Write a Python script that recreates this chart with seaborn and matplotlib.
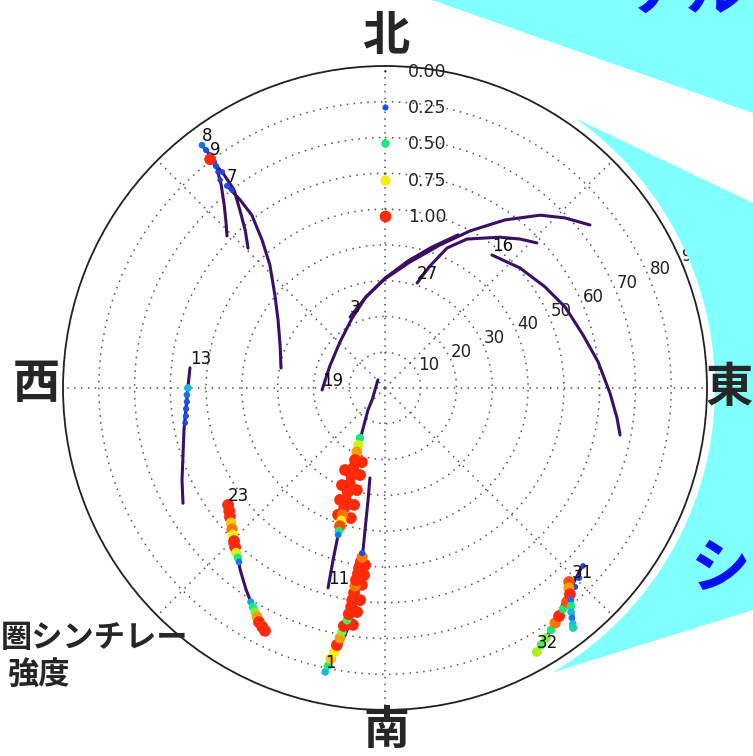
import numpy as np
import pandas as pd
import matplotlib
matplotlib.use("Agg")
import matplotlib.pyplot as plt
from matplotlib.colors import LinearSegmentedColormap
from matplotlib.lines import Line2D
from matplotlib.patches import Polygon
import seaborn as sns

# ---------------------------------------------------------------
# Satellite passes: azimuth (deg, clockwise from north), zenith angle (deg)
# ---------------------------------------------------------------
az_08 = [323.0, 323.1, 322.6, 321.1, 318.7, 316.2, 313.9]
zen_08 = [85.0, 81.4, 77.4, 72.9, 68.1, 64.2, 61.3]

az_09 = [322.6, 323.0, 322.7, 320.8, 318.5, 315.6]
zen_09 = [80.5, 75.6, 69.6, 64.2, 59.0, 54.7]

az_07 = [322.0, 322.4, 322.4, 320.3, 316.9, 310.2, 302.4, 292.3, 280.9]
zen_07 = [71.7, 66.3, 61.0, 53.8, 47.1, 40.3, 35.4, 31.7, 29.6]

az_03 = [-26.2, -11.8, 0.0, 11.2, 21.0, 28.4, 35.5, 41.9, 46.6, 51.5]
zen_03 = [22.1, 26.0, 30.5, 35.9, 42.8, 49.9, 57.7, 64.9, 69.2, 73.2]

az_19 = [-91.8, -68.2, -44.4, -25.2, -11.8, 0.0, 10.3, 18.4, 25.5]
zen_19 = [17.6, 16.6, 18.0, 21.6, 26.0, 30.7, 36.1, 41.5, 47.4]

az_27 = [17.0, 20.2, 23.9, 28.8, 37.3, 42.2, 46.3]
zen_27 = [30.7, 36.3, 42.8, 47.5, 53.0, 56.2, 58.7]

az_16 = [38.8, 48.4, 57.7, 65.8, 75.0, 83.0, 91.3, 97.4, 101.3]
zen_16 = [47.7, 50.5, 52.9, 55.2, 57.3, 60.0, 62.9, 65.4, 67.0]

az_13 = [275.9, 270.0, 263.7, 258.2, 251.6, 245.6, 240.3]
zen_13 = [54.8, 55.1, 56.0, 57.4, 59.5, 62.3, 65.0]

az_11 = [195.9, 196.8, 197.7, 198.9, 200.8, 205.7, 217.7, 227.3, 258.7, 318.8]
zen_11 = [58.1, 50.2, 43.1, 34.5, 26.0, 16.1, 7.8, 4.9, 2.85, 3.0]

az_01 = [191.9, 190.3, 188.9, 187.8, 187.4, 187.6, 188.0, 188.6, 189.5]
zen_01 = [81.1, 75.0, 68.5, 61.8, 54.1, 48.5, 40.1, 31.7, 25.5]

az_23 = [233.3, 228.2, 223.0, 218.5, 214.5, 211.5, 208.7, 206.4]
zen_23 = [54.7, 57.4, 61.1, 65.0, 68.5, 71.1, 73.9, 75.5]

az_31 = [136.1, 138.6, 140.4, 141.9]
zen_31 = [75.3, 79.0, 82.4, 85.2]

az_32 = [150.1, 146.6, 142.7, 139.1, 135.3, 131.8]
zen_32 = [85.1, 82.7, 79.8, 77.3, 75.5, 74.2]

PRN_LABELS = ["8", "9", "7", "3", "19", "27", "16", "13", "11", "1", "23", "31", "32"]
TRACK_AZ = [az_08, az_09, az_07, az_03, az_19, az_27, az_16, az_13, az_11, az_01, az_23, az_31, az_32]
TRACK_ZEN = [zen_08, zen_09, zen_07, zen_03, zen_19, zen_27, zen_16, zen_13, zen_11, zen_01, zen_23, zen_31, zen_32]

# ---------------------------------------------------------------
# S4 scintillation samples along the passes
# ---------------------------------------------------------------
s4_az_08 = [323.0, 323.05, 323.1, 322.9, 322.3, 321.6]
s4_zen_08 = [85.0, 83.2, 81.4, 79.2, 76.3, 74.2]
s4_08 = [0.30, 0.25, 0.25, 0.25, 0.20, 0.20]

s4_az_09 = [322.6, 322.7, 323.0]
s4_zen_09 = [80.5, 78.0, 75.6]
s4_09 = [1.00, 0.25, 0.22]

s4_az_07 = [322.0, 322.3]
s4_zen_07 = [71.7, 69.9]
s4_07 = [0.25, 0.20]

s4_az_13 = [270.0, 268.0, 266.0, 264.0, 262.0, 260.1]
s4_zen_13 = [55.1, 55.4, 55.5, 55.9, 56.2, 56.7]
s4_13 = [0.40, 0.30, 0.25, 0.25, 0.25, 0.22]

s4_az_11 = [197.3, 196.0, 195.4, 194.8, 194.7, 206.0, 203.9, 201.9, 200.3,
            206.6, 205.0, 203.8, 202.6, 201.7, 200.9, 200.2, 199.7, 199.2,
            198.8, 198.5, 198.2, 198.1, 197.9, 197.7]
s4_zen_11 = [21.7, 25.3, 29.6, 33.8, 37.6, 25.5, 29.7, 33.7, 37.8,
             15.6, 17.6, 19.5, 21.8, 24.1, 26.3, 28.6, 30.9, 33.2,
             35.4, 37.4, 39.1, 40.6, 42.0, 43.1]
s4_11 = [1.0, 1.0, 1.0, 1.0, 1.0, 1.0, 1.0, 1.0, 1.0,
         0.50, 0.70, 0.85, 1.0, 1.0, 1.0, 1.0, 1.0, 1.0,
         1.0, 0.90, 0.75, 0.95, 0.50, 0.30]

s4_az_01 = [186.7, 186.4, 186.4, 186.7, 187.1, 187.7,
            191.9, 191.6, 191.3, 190.9, 190.6, 190.2, 190.0, 189.8, 189.3, 189.1,
            188.8, 188.8, 188.6, 188.6, 188.6, 188.3, 188.2, 187.9, 187.7, 187.9]
s4_zen_01 = [55.4, 52.6, 49.8, 59.7, 63.1, 66.8,
             81.1, 79.3, 77.2, 75.2, 73.1, 71.0, 69.2, 67.5, 65.7, 64.0,
             61.9, 60.0, 57.9, 56.0, 54.3, 52.5, 50.8, 49.1, 47.7, 46.6]
s4_01 = [1.0, 1.0, 1.0, 1.0, 1.0, 1.0,
         0.40, 0.50, 0.80, 0.75, 1.0, 0.85, 0.60, 1.0, 0.55, 1.0,
         1.0, 1.0, 1.0, 0.90, 1.0, 1.0, 1.0, 1.0, 0.90, 0.25]

s4_az_23 = [233.3, 231.7, 230.2, 228.8, 227.3, 226.0, 224.6, 223.3, 222.1, 220.9, 220.0,
            212.1, 211.1, 210.1, 209.2, 208.3, 207.2, 206.3]
s4_zen_23 = [54.7, 55.5, 56.4, 57.2, 58.2, 59.1, 60.1, 61.1, 62.1, 62.8, 63.5,
             70.6, 71.5, 72.4, 73.3, 74.3, 75.1, 75.7]
s4_23 = [1.0, 1.0, 1.0, 0.80, 0.90, 0.75, 1.0, 1.0, 0.70, 0.50, 0.30,
         0.35, 0.50, 0.60, 0.85, 1.0, 1.0, 1.0]

s4_az_32 = [150.1, 148.7, 147.2, 145.55, 144.1, 142.65, 141.15, 139.6, 137.9, 136.3, 134.4, 131.95]
s4_zen_32 = [85.1, 84.0, 83.1, 82.0, 81.1, 80.2, 79.3, 78.5, 77.6, 76.9, 75.9, 74.4]
s4_32 = [0.65, 0.55, 0.60, 0.50, 0.90, 1.0, 0.50, 0.95, 0.30, 0.25, 0.25, 0.20]

s4_az_31 = [136.5, 137.4, 138.1, 138.7, 139.5, 140.3, 140.9, 141.5, 141.9]
s4_zen_31 = [74.7, 75.9, 77.4, 78.8, 80.1, 81.4, 82.8, 84.3, 85.2]
s4_31 = [0.95, 0.85, 1.0, 0.30, 0.50, 0.40, 0.30, 0.40, 0.45]

SCINT_AZ = [s4_az_08, s4_az_09, s4_az_07, s4_az_13, s4_az_11, s4_az_01, s4_az_23, s4_az_32, s4_az_31]
SCINT_ZEN = [s4_zen_08, s4_zen_09, s4_zen_07, s4_zen_13, s4_zen_11, s4_zen_01, s4_zen_23, s4_zen_32, s4_zen_31]
SCINT_S4 = [s4_08, s4_09, s4_07, s4_13, s4_11, s4_01, s4_23, s4_32, s4_31]

LEGEND_LEVELS = [0.00, 0.25, 0.50, 0.75, 1.00]
R_TICKS = [10, 20, 30, 40, 50, 60, 70, 80, 90]

# ---------------------------------------------------------------
W, H = 753, 756
CX, CY, RPIX = 385, 388, 322          # sky-circle centre / radius in pixels
R_MASK = 330                          # white margin kept around the sky circle

sns.set_style("white")
plt.rcParams["font.family"] = ["DejaVu Sans", "Noto Sans CJK JP"]
JP = ["Noto Sans CJK JP", "DejaVu Sans"]

cmap = LinearSegmentedColormap.from_list(
    "s4", [(0.0, "#3c0f64"), (0.25, "#1a4ff0"), (0.375, "#12b0f2"),
           (0.5, "#1ee67e"), (0.625, "#9cf020"), (0.75, "#f5f014"),
           (0.875, "#ff8a00"), (1.0, "#ff2a0a")])
SIZE_MIN, SIZE_MAX = 2.0, 72.0


def fx(x):
    return x / W


def fy(y):
    return 1.0 - y / H


def outside_mask(verts, n=300):
    """Trace a polygon outline, pushing any part inside the sky-circle margin onto its rim."""
    pts = []
    for (x0, y0), (x1, y1) in zip(verts, verts[1:] + verts[:1]):
        t = np.linspace(0, 1, n, endpoint=False)
        pts.append(np.column_stack([x0 + (x1 - x0) * t, y0 + (y1 - y0) * t]))
    pts = np.vstack(pts)
    d = pts - np.array([CX, CY])
    r = np.hypot(d[:, 0], d[:, 1])
    k = np.maximum(1.0, R_MASK / r)
    return np.column_stack([CX + d[:, 0] * k, CY + d[:, 1] * k])


fig = plt.figure(figsize=(W / 100, H / 100), dpi=100)
fig.patch.set_facecolor("white")

ax = fig.add_axes([(CX - RPIX) / W, (H - CY - RPIX) / H, 2 * RPIX / W, 2 * RPIX / H],
                  projection="polar", zorder=1)
ax.set_theta_zero_location("N")
ax.set_theta_direction(-1)

# satellite passes
for lab, az, zen in zip(PRN_LABELS, TRACK_AZ, TRACK_ZEN):
    th = np.deg2rad(az)
    ax.plot(th, zen, color=cmap(0.0), lw=2.2, solid_capstyle="round", zorder=2)
    ax.text(th[0], zen[0], lab, ha="left", va="bottom", fontsize=12,
            color="#111111", zorder=6)

# S4 samples
df = pd.concat([pd.DataFrame({"theta": np.deg2rad(a), "zen": z, "S4": s})
                for a, z, s in zip(SCINT_AZ, SCINT_ZEN, SCINT_S4)], ignore_index=True)
sns.scatterplot(data=df, x="theta", y="zen", hue="S4", size="S4", palette=cmap,
                hue_norm=(0, 1), sizes=(SIZE_MIN, SIZE_MAX), size_norm=(0, 1),
                linewidth=0, legend=False, ax=ax, zorder=4)
ax.set_xlabel("")
ax.set_ylabel("")

ax.set_ylim(0, 90)
ax.set_yticks(R_TICKS)
ax.set_yticklabels([str(t) for t in R_TICKS], fontsize=12, color="#222222")
ax.set_rlabel_position(67.5)
ax.set_xticks(np.deg2rad(np.arange(0, 360, 45)))
ax.set_xticklabels([])
ax.grid(True, color="#555555", linestyle=(0, (1, 3.5)), linewidth=1.1)
ax.spines["polar"].set_linewidth(1.3)
ax.spines["polar"].set_color("#222222")

# size / colour key for S4
handles = [Line2D([], [], ls="", marker="o", markersize=np.sqrt(SIZE_MIN + (SIZE_MAX - SIZE_MIN) * v),
                  markerfacecolor=cmap(v), markeredgewidth=0) for v in LEGEND_LEVELS]
ax.legend(handles, [f"{v:.2f}" for v in LEGEND_LEVELS], loc="upper left",
          bbox_to_anchor=(fx(371.5), fy(63)), bbox_transform=fig.transFigure,
          frameon=False, fontsize=12.5, handlelength=1.5, handletextpad=0.6,
          labelspacing=1.05, borderpad=0, borderaxespad=0)

# callout panels around the sky plot
ov = fig.add_axes([0, 0, 1, 1], zorder=3)
ov.set_xlim(0, W)
ov.set_ylim(H, 0)
ov.axis("off")
ov.patch.set_alpha(0)
for verts in ([(432, 0), (W, 0), (W, 113)],
              [(480, 73), (W, 203), (W, 610), (480, 695)]):
    ov.add_patch(Polygon(outside_mask(verts), closed=True, facecolor="#80ffff",
                         edgecolor="none"))

# compass directions
for txt, x, y, fs in (("北", 386, 36, 34), ("南", 386, 731, 33),
                      ("西", 36, 384, 34), ("東", 729, 388, 34)):
    fig.text(fx(x), fy(y), txt, ha="center", va="center", fontsize=fs,
             fontweight="bold", family=JP, zorder=10)

fig.text(fx(1), fy(638), "圏シンチレー", ha="left", va="center", fontsize=22.5,
         fontweight="bold", family=JP, zorder=10)
fig.text(fx(8), fy(676), "強度", ha="left", va="center", fontsize=22.5,
         fontweight="bold", family=JP, zorder=10)

fig.text(fx(746), fy(10), "ナル", ha="right", va="baseline", fontsize=43,
         fontweight="bold", color="#0010f0", family=JP, zorder=10)
fig.text(fx(690), fy(570), "シ", ha="left", va="center", fontsize=43,
         fontweight="bold", color="#0010f0", family=JP, zorder=10)

fig.savefig("out.png", dpi=100)
